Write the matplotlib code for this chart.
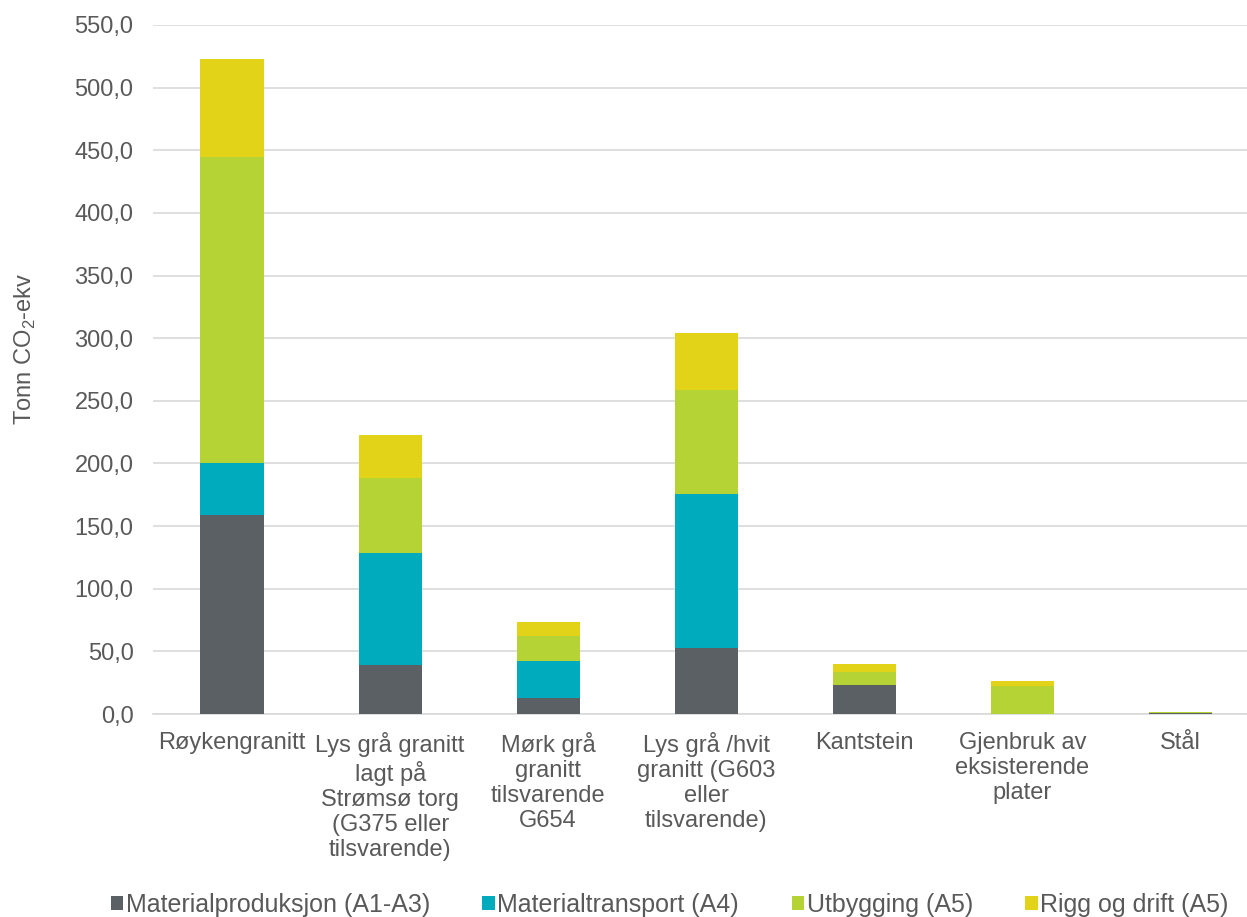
import matplotlib
matplotlib.use('Agg')
import matplotlib.pyplot as plt
from matplotlib.ticker import FuncFormatter
import numpy as np

# data
kategorier = ['Røykengranitt',
              'Lys grå granitt\nlagt på\nStrømsø torg\n(G375 eller\ntilsvarende)',
              'Mørk grå\ngranitt\ntilsvarende\nG654',
              'Lys grå /hvit\ngranitt (G603\neller\ntilsvarende)',
              'Kantstein',
              'Gjenbruk av\neksisterende\nplater',
              'Stål']
materialproduksjon = [159.0, 39.0, 12.5, 52.7, 22.9, 0.0, 0.8]
materialtransport = [41.5, 89.5, 30.0, 123.0, 0.4, 0.0, 0.0]
utbygging = [244.0, 60.0, 20.0, 83.0, 10.4, 22.1, 1.0]
rigg_og_drift = [78.5, 34.0, 11.0, 45.5, 6.4, 4.2, 0.0]

serier = ['Materialproduksjon (A1-A3)', 'Materialtransport (A4)',
          'Utbygging (A5)', 'Rigg og drift (A5)']
farger = ['#5b6064', '#00abbd', '#b5d334', '#e2d319']

tekstfarge = '#595959'
plt.rcParams['font.family'] = ['Liberation Sans', 'DejaVu Sans']
plt.rcParams['mathtext.fontset'] = 'custom'
plt.rcParams['mathtext.rm'] = 'Liberation Sans'

fig = plt.figure(figsize=(12.47, 9.17), dpi=100)
ax = fig.add_axes([153/1247, 203/917, 1094/1247, 689/917])

x = np.arange(len(kategorier))
bunn = np.zeros(len(kategorier))
for navn, verdier, farge in zip(serier, [materialproduksjon, materialtransport, utbygging, rigg_og_drift], farger):
    ax.bar(x, verdier, 0.4, bottom=bunn, color=farge, label=navn, zorder=3)
    bunn += np.array(verdier)

ax.set_ylim(0, 550)
ax.set_xlim(-0.5, 6.42)
ax.set_yticks(np.arange(0, 551, 50))
ax.yaxis.set_major_formatter(FuncFormatter(lambda v, p: ('%.1f' % v).replace('.', ',')))
ax.grid(axis='y', color='#d9d9d9', linewidth=1.2, zorder=0)
for s in ['top', 'right', 'left']:
    ax.spines[s].set_visible(False)
ax.spines['bottom'].set_color('#d9d9d9')
ax.spines['bottom'].set_linewidth(1.2)
ax.tick_params(axis='both', length=0, labelsize=17, colors=tekstfarge)
ax.tick_params(axis='y', pad=14)
ax.tick_params(axis='x', pad=13)
ax.set_xticks(x)
ax.set_xticklabels(kategorier, linespacing=1.18)

ax.set_ylabel('Tonn CO$_2$-ekv', fontsize=17, color=tekstfarge)
ax.yaxis.set_label_coords(-0.105, 0.53)

leg = fig.legend(loc='center', bbox_to_anchor=(0.537, 0.013), ncol=4, frameon=False,
                 handlelength=0.5, handleheight=0.5, handletextpad=0.1, columnspacing=2.1,
                 prop={'size': 18})
for t in leg.get_texts():
    t.set_color(tekstfarge)

fig.savefig('out.png', dpi=100)
